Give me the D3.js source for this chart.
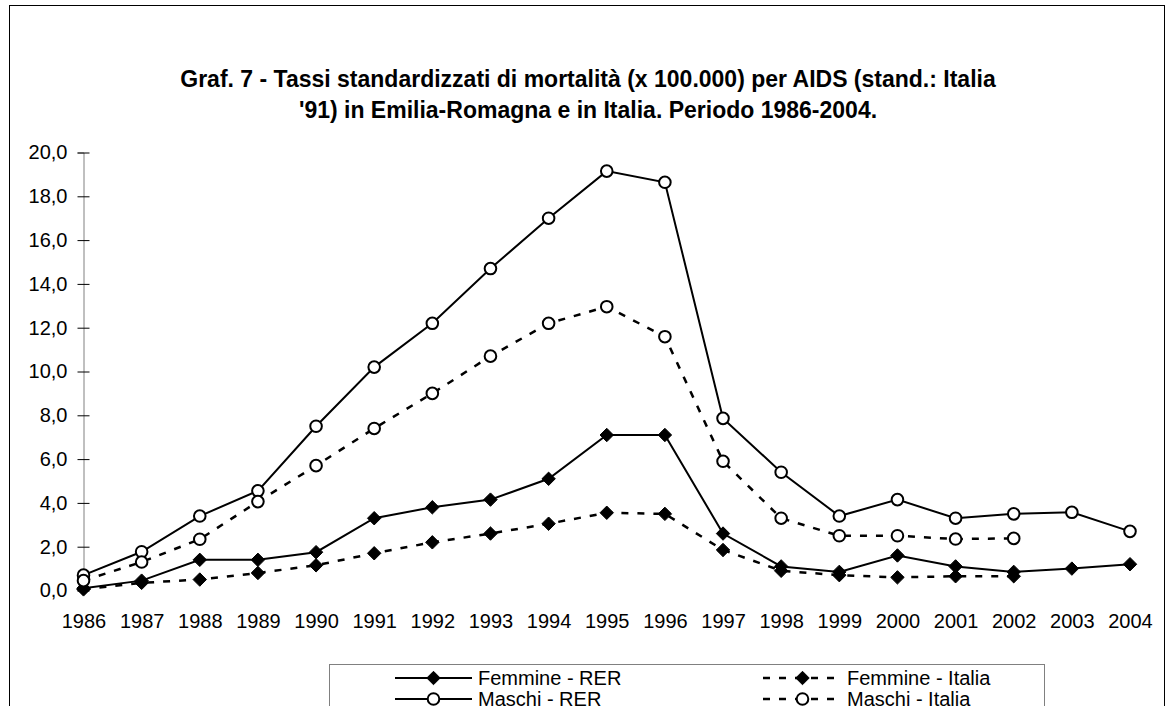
<!DOCTYPE html>
<html>
<head>
<meta charset="utf-8">
<script src="https://cdn.jsdelivr.net/npm/d3@7"></script>
<style>
  body { margin: 0; background: #fff; }
  svg { display: block; font-family: "Liberation Sans", Arial, sans-serif; }
</style>
</head>
<body>
<div id="chart"></div>
<script>
// data
var years = ['1986','1987','1988','1989','1990','1991','1992','1993','1994','1995',
             '1996','1997','1998','1999','2000','2001','2002','2003','2004'];
var femmineRER    = [0.1, 0.45, 1.4, 1.4, 1.75, 3.3, 3.8, 4.15, 5.1, 7.1, 7.1, 2.6, 1.1, 0.85, 1.6, 1.1, 0.85, 1.0, 1.2];
var femmineItalia = [0.05, 0.35, 0.5, 0.8, 1.15, 1.7, 2.2, 2.6, 3.05, 3.55, 3.5, 1.85, 0.9, 0.7, 0.6, 0.65, 0.65, null, null];
var maschiRER     = [0.7, 1.77, 3.4, 4.55, 7.5, 10.2, 12.2, 14.7, 17.0, 19.15, 18.64, 7.86, 5.4, 3.4, 4.15, 3.3, 3.5, 3.57, 2.7];
var maschiItalia  = [0.45, 1.3, 2.34, 4.06, 5.7, 7.4, 9.0, 10.7, 12.2, 12.96, 11.59, 5.9, 3.3, 2.5, 2.5, 2.35, 2.38, null, null];
var yTicks = [0, 2, 4, 6, 8, 10, 12, 14, 16, 18, 20];
var titleLines = ["Graf. 7 - Tassi standardizzati di mortalità (x 100.000) per AIDS (stand.: Italia",
                  "'91) in Emilia-Romagna e in Italia. Periodo 1986-2004."];

var series = [
  {name: 'Femmine - RER',    values: femmineRER,    marker: 'diamond', dashed: false},
  {name: 'Femmine - Italia', values: femmineItalia, marker: 'diamond', dashed: true},
  {name: 'Maschi - RER',     values: maschiRER,     marker: 'circle',  dashed: false},
  {name: 'Maschi - Italia',  values: maschiItalia,  marker: 'circle',  dashed: true}
];

var W = 1174, H = 706;
var svg = d3.select('#chart').append('svg').attr('width', W).attr('height', H);

// outer chart border
svg.append('rect')
  .attr('x', 9.5).attr('y', 5.5).attr('width', 1155).attr('height', 720)
  .attr('fill', 'none').attr('stroke', '#000').attr('stroke-width', 1);

// title
svg.append('g').selectAll('text').data(titleLines).enter().append('text')
  .attr('x', 588).attr('y', function(d, i) { return 87 + i * 31; })
  .attr('text-anchor', 'middle')
  .attr('font-size', '23px').attr('font-weight', 'bold')
  .text(function(d) { return d; });

var x = d3.scalePoint().domain(years).range([83.5, 1130]);
var y = d3.scaleLinear().domain([0, 20]).range([590.5, 152.5]);

// y axis
var yAxis = svg.append('g').attr('transform', 'translate(83.5,0)')
  .call(d3.axisLeft(y).tickValues(yTicks).tickSize(6).tickPadding(10)
    .tickFormat(function(d) { return d3.format('.1f')(d).replace('.', ','); }));
yAxis.select('.domain').attr('stroke', '#808080');
yAxis.selectAll('.tick line').attr('stroke', '#000').attr('x2', 6).attr('x1', -6);
yAxis.selectAll('text').attr('font-size', '20px').attr('fill', '#000')
  .attr('font-family', '"Liberation Sans", Arial, sans-serif');

// x axis labels
var xAxis = svg.append('g').attr('transform', 'translate(0,590.5)')
  .call(d3.axisBottom(x).tickSize(0).tickPadding(23));
xAxis.select('.domain').remove();
xAxis.selectAll('text').attr('font-size', '20px').attr('fill', '#000')
  .attr('font-family', '"Liberation Sans", Arial, sans-serif');

var line = d3.line()
  .defined(function(d) { return d != null; })
  .x(function(d, i) { return x(years[i]); })
  .y(function(d) { return y(d); });

var diamond = d3.symbol().type(d3.symbolDiamond2).size(115);

function drawMarker(g, type, cx, cy) {
  if (type === 'circle') {
    g.append('circle').attr('cx', cx).attr('cy', cy).attr('r', 5.8)
      .attr('fill', '#fff').attr('stroke', '#000').attr('stroke-width', 2);
  } else {
    g.append('path').attr('d', diamond)
      .attr('transform', 'translate(' + cx + ',' + cy + ')')
      .attr('fill', '#000').attr('stroke', '#000').attr('stroke-width', 1);
  }
}

series.forEach(function(s) {
  var g = svg.append('g');
  g.append('path').datum(s.values)
    .attr('d', line)
    .attr('fill', 'none').attr('stroke', '#000')
    .attr('stroke-width', s.dashed ? 2.5 : 2)
    .attr('stroke-dasharray', s.dashed ? '7,9' : null);
  s.values.forEach(function(v, i) {
    if (v != null) drawMarker(g, s.marker, x(years[i]), y(v));
  });
});

// legend
var leg = svg.append('g');
leg.append('rect').attr('x', 329.5).attr('y', 664.5).attr('width', 715).attr('height', 60)
  .attr('fill', '#fff').attr('stroke', '#808080').attr('stroke-width', 1);
var legPos = [
  {s: series[0], lx: 395, rx: 472, tx: 478, ty: 678},
  {s: series[1], lx: 763, rx: 842, tx: 847, ty: 678},
  {s: series[2], lx: 395, rx: 472, tx: 478, ty: 699},
  {s: series[3], lx: 763, rx: 842, tx: 847, ty: 699}
];
legPos.forEach(function(p) {
  leg.append('line').attr('x1', p.lx).attr('x2', p.rx).attr('y1', p.ty).attr('y2', p.ty)
    .attr('stroke', '#000').attr('stroke-width', p.s.dashed ? 2.5 : 2)
    .attr('stroke-dasharray', p.s.dashed ? '7,9' : null);
  drawMarker(leg, p.s.marker, (p.lx + p.rx) / 2, p.ty);
  leg.append('text').attr('x', p.tx).attr('y', p.ty).attr('dy', '0.36em')
    .attr('font-size', '20px').text(p.s.name);
});
</script>
</body>
</html>
